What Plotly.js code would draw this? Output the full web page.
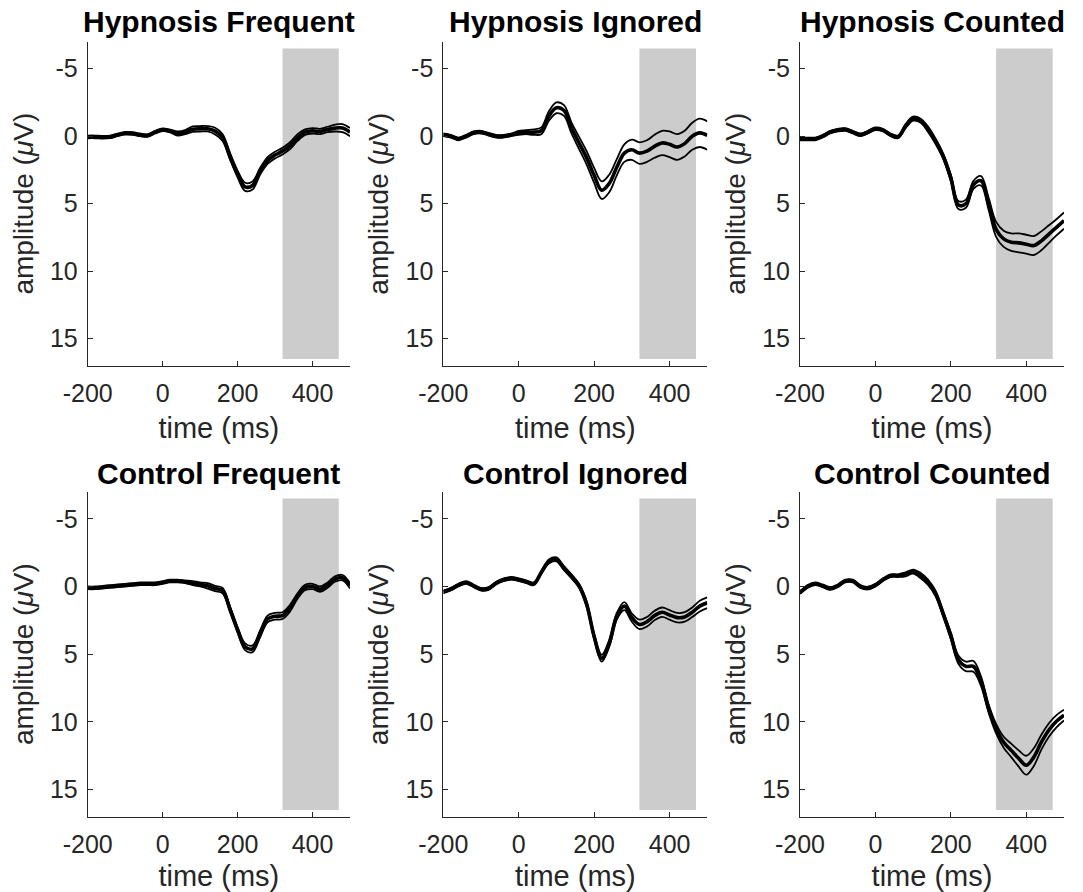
<!DOCTYPE html>
<html>
<head>
<meta charset="utf-8">
<script src="https://cdn.plot.ly/plotly-3.0.1.min.js"></script>
<style>html,body{margin:0;padding:0;background:#fff;}#chart{width:1083px;height:892px;}</style>
</head>
<body>
<div id="chart"></div>
<script>
// time axis (ms)
const times = [-200,-180,-160,-140,-120,-100,-80,-60,-40,-20,0,20,40,60,80,100,120,140,160,180,200,220,240,260,280,300,320,340,360,380,400,420,440,460,480,500];

// panel titles
const panelTitles = ["Hypnosis Frequent","Hypnosis Ignored","Hypnosis Counted","Control Frequent","Control Ignored","Control Counted"];

// grand-average amplitudes (µV)
const hypFreq = [0.05,0.05,0.08,0.05,-0.1,-0.22,-0.2,-0.1,-0.05,-0.3,-0.48,-0.38,-0.2,-0.3,-0.52,-0.55,-0.55,-0.38,0.1,1.5,2.8,3.75,3.65,2.6,1.8,1.4,1.1,0.7,0.1,-0.3,-0.4,-0.35,-0.5,-0.6,-0.6,-0.3];
const hypIgn  = [-0.1,0,0.2,0,-0.25,-0.3,-0.15,0,0,-0.1,-0.25,-0.3,-0.3,-0.4,-1.5,-2.1,-1.9,-0.6,0.5,1.6,2.9,4.0,3.5,2.3,1.25,1.0,1.25,1.1,0.75,0.5,0.6,0.8,0.55,0.0,-0.25,-0.05];
const hypCnt  = [0.2,0.2,0.2,0,-0.3,-0.45,-0.5,-0.3,-0.1,-0.3,-0.55,-0.45,-0.1,0.05,-0.75,-1.3,-1.15,-0.5,0.4,1.5,3.1,5.1,5.0,3.6,3.3,5.0,6.9,7.6,7.85,7.9,8.0,8.1,7.75,7.25,6.75,6.25];
const ctlFreq = [0.1,0.1,0.05,0,-0.05,-0.1,-0.15,-0.2,-0.2,-0.2,-0.3,-0.4,-0.4,-0.35,-0.25,-0.15,-0.05,0.15,0.3,1.7,3.2,4.45,4.6,3.5,2.4,2.2,2.15,1.6,0.7,0.08,0.0,0.2,-0.1,-0.55,-0.65,-0.05];
const ctlIgn  = [0.4,0.2,-0.1,-0.3,-0.05,0.2,0.15,-0.25,-0.5,-0.6,-0.5,-0.35,-0.2,-1.05,-1.85,-2.0,-1.35,-0.75,-0.05,1.3,3.7,5.3,4.2,2.2,1.45,2.3,2.8,2.6,2.15,1.9,2.1,2.3,2.25,1.9,1.45,1.2];
const ctlCnt  = [0.45,0.0,-0.2,-0.05,0.15,-0.05,-0.4,-0.4,0.0,0.12,-0.1,-0.5,-0.8,-0.8,-0.9,-1.1,-0.8,-0.3,0.55,2.05,3.65,5.4,5.9,5.9,7.0,9.0,10.5,11.5,12.1,12.7,13.2,12.6,11.5,10.6,9.95,9.5];

// standard errors (µV)
const hypFreqSE = [0.1,0.1,0.1,0.1,0.1,0.1,0.1,0.1,0.1,0.1,0.1,0.1,0.15,0.15,0.2,0.2,0.2,0.25,0.25,0.25,0.25,0.3,0.3,0.25,0.25,0.25,0.25,0.25,0.25,0.2,0.2,0.2,0.2,0.25,0.3,0.3];
const hypIgnSE  = [0.1,0.1,0.1,0.1,0.1,0.1,0.1,0.1,0.1,0.1,0.15,0.15,0.2,0.25,0.35,0.4,0.4,0.4,0.45,0.5,0.55,0.65,0.65,0.6,0.65,0.75,0.8,0.8,0.85,0.9,0.95,0.95,0.95,1.0,1.05,1.05];
const hypCntSE  = [0.1,0.1,0.1,0.1,0.1,0.1,0.1,0.1,0.1,0.1,0.1,0.1,0.1,0.1,0.15,0.15,0.15,0.2,0.2,0.2,0.25,0.3,0.3,0.3,0.35,0.45,0.55,0.6,0.65,0.7,0.7,0.7,0.7,0.65,0.6,0.6];
const ctlFreqSE = [0.1,0.1,0.1,0.1,0.1,0.1,0.1,0.1,0.1,0.1,0.1,0.1,0.1,0.1,0.15,0.15,0.2,0.2,0.2,0.2,0.2,0.25,0.25,0.25,0.25,0.25,0.25,0.25,0.2,0.2,0.2,0.2,0.2,0.2,0.2,0.2];
const ctlIgnSE  = [0.1,0.1,0.1,0.1,0.1,0.1,0.1,0.1,0.1,0.1,0.1,0.1,0.1,0.1,0.15,0.15,0.15,0.15,0.15,0.2,0.2,0.25,0.25,0.25,0.3,0.3,0.35,0.35,0.35,0.35,0.35,0.35,0.35,0.35,0.4,0.4];
const ctlCntSE  = [0.1,0.1,0.1,0.1,0.1,0.1,0.1,0.1,0.1,0.1,0.1,0.1,0.1,0.1,0.15,0.15,0.2,0.2,0.2,0.2,0.25,0.3,0.35,0.4,0.35,0.3,0.35,0.4,0.5,0.6,0.7,0.65,0.55,0.5,0.45,0.4];

// analysis window (shaded) and axis ticks
const windowMs = [320, 470];
const windowAmp = [-6.5, 16.5];
const xTicks = [-200, 0, 200, 400];
const xTickText = ["-200", "0", "200", "400"];
const yTicks = [-5, 0, 5, 10, 15];
const yTickText = ["-5", "0", "5", "10", "15"];
const xRange = [-200, 500];
const yRange = [17, -7];

const means = [hypFreq, hypIgn, hypCnt, ctlFreq, ctlIgn, ctlCnt];
const ses = [hypFreqSE, hypIgnSE, hypCntSE, ctlFreqSE, ctlIgnSE, ctlCntSE];

const W = 1083, H = 892;
const colPx = [[87.7, 350], [443.3, 707.3], [800, 1064]];
const rowPx = [[41.7, 365.7], [491.7, 816.7]];
const titleY = [22, 473];

const FONT = '"Liberation Sans", Arial, Helvetica, sans-serif';
const AX = '#262626';

const traces = [];
const layout = {
  width: W, height: H,
  margin: {l: 0, r: 0, t: 0, b: 0},
  paper_bgcolor: '#fff', plot_bgcolor: 'rgba(0,0,0,0)',
  showlegend: false,
  font: {family: FONT, color: AX},
  shapes: [], annotations: []
};

for (let i = 0; i < 6; i++) {
  const r = Math.floor(i / 3), c = i % 3;
  const sfx = i === 0 ? '' : String(i + 1);
  const xa = 'x' + sfx, ya = 'y' + sfx;
  const m = means[i], s = ses[i];
  const upper = m.map((v, k) => v - s[k]);
  const lower = m.map((v, k) => v + s[k]);
  [upper, lower].forEach(arr => traces.push({
    x: times, y: arr, xaxis: xa, yaxis: ya, type: 'scatter', mode: 'lines',
    line: {color: '#000', width: 1.8, shape: 'spline', smoothing: 1}, hoverinfo: 'skip'
  }));
  traces.push({
    x: times, y: m, xaxis: xa, yaxis: ya, type: 'scatter', mode: 'lines',
    line: {color: '#000', width: 3.6, shape: 'spline', smoothing: 1}
  });

  layout['xaxis' + sfx] = {
    domain: [colPx[c][0] / W, colPx[c][1] / W],
    anchor: ya, range: xRange, tickvals: xTicks, ticktext: xTickText,
    showgrid: false, zeroline: false, showline: true, linecolor: AX, linewidth: 1,
    ticks: 'inside', ticklen: 5, tickcolor: AX, tickwidth: 1,
    tickfont: {family: FONT, size: 25, color: AX}, ticklabelstandoff: 5,
    title: {text: 'time (ms)', font: {family: FONT, size: 29, color: AX}, standoff: 11}
  };
  layout['yaxis' + sfx] = {
    domain: [1 - rowPx[r][1] / H, 1 - rowPx[r][0] / H],
    anchor: xa, range: yRange, tickvals: yTicks, ticktext: yTickText,
    showgrid: false, zeroline: false, showline: true, linecolor: AX, linewidth: 1,
    ticks: 'inside', ticklen: 5, tickcolor: AX, tickwidth: 1,
    tickfont: {family: FONT, size: 25, color: AX}, ticklabelstandoff: 4,
    title: {text: 'amplitude (<i>μ</i>V)', font: {family: FONT, size: 28, color: AX}, standoff: 8}
  };
  layout.shapes.push({
    type: 'rect', xref: xa, yref: ya, layer: 'below',
    x0: windowMs[0], x1: windowMs[1], y0: windowAmp[0], y1: windowAmp[1],
    fillcolor: '#cccccc', line: {width: 0}
  });
  layout.annotations.push({
    xref: 'paper', yref: 'paper', showarrow: false,
    x: (colPx[c][0] + colPx[c][1]) / 2 / W, y: 1 - titleY[r] / H,
    xanchor: 'center', yanchor: 'middle',
    text: '<b>' + panelTitles[i] + '</b>',
    font: {family: FONT, size: 30, color: '#000'}
  });
}

Plotly.newPlot('chart', traces, layout, {staticPlot: true, displayModeBar: false});
</script>
</body>
</html>
